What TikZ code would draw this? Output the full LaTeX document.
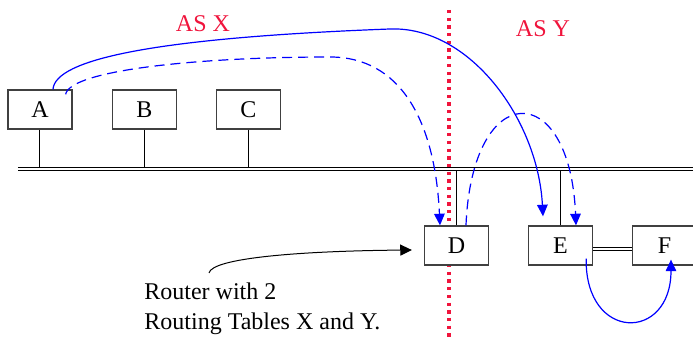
\documentclass[tikz,border=0pt]{standalone}
\usepackage{fontspec}
\setmainfont{Liberation Serif}
\usetikzlibrary{arrows.meta}

\definecolor{asred}{RGB}{240,20,60}

\begin{document}
\begin{tikzpicture}[x=0.5pt, y=-0.5pt,
  font=\fontsize{12}{15}\selectfont,
  router/.style={draw=black!75, fill=white, line width=0.65pt, minimum width=32pt, minimum height=19.5pt, inner sep=0pt},
  wire/.style={line width=0.5pt},
  bus/.style={double, double distance=1pt, line width=0.5pt},
  route/.style={blue, line width=0.6pt, -{Triangle[length=5.8pt,width=5.3pt]}},
  backup/.style={route, dash pattern=on 5pt off 3pt},
  border/.style={asred, line width=2pt, dash pattern=on 1.65pt off 2.2pt}]

\useasboundingbox (0,0) rectangle (693,340);

% Boundary between the two systems
\draw[border] (449.5,10) -- (449.5,345);
\node[asred] (asx) at (203,24) {AS X};
\node[asred] (asy) at (543,29) {AS Y};

% Routers
\node[router] (A) at (40,109.5) {A};
\node[router] (B) at (144.5,109.5) {B};
\node[router] (C) at (248.5,109.5) {C};
\node[router] (D) at (456.5,245.5) {D};
\node[router] (E) at (560.5,245.5) {E};
\node[router] (F) at (664.5,245.5) {F};

% Shared bus
\coordinate (busL) at (18,169.5);
\coordinate (busR) at (700,169.5);
\draw[bus] (busL) -- (busR);
\draw[wire] (A.south) -- (A.south |- 0,168.3);
\draw[wire] (B.south) -- (B.south |- 0,168.3);
\draw[wire] (C.south) -- (C.south |- 0,168.3);
\draw[wire] (D.north) -- (D.north |- 0,170.7);
\draw[wire] (E.north) -- (E.north |- 0,170.7);
\draw[bus] ([yshift=-1.75pt]E.east) -- ([yshift=-1.75pt]F.west);

% Routes
\draw[route] ([xshift=6.5pt]A.north) .. controls (55,60) and (150,38) .. (390,29)
  .. controls (470,26) and (538,120) .. ([xshift=-8.75pt,yshift=4.5pt]E.north);
\draw[backup] ([xshift=-3.5pt,yshift=-2.5pt]A.north east) .. controls (70,70) and (200,57) .. (330,57)
  .. controls (400,57) and (435,120) .. ([xshift=-8.25pt]D.north);
\draw[backup] ([xshift=4.75pt]D.north) .. controls (472,78) and (570,78) .. ([xshift=7.75pt]E.north);
\draw[route] ([xshift=-3.5pt,yshift=3.5pt]E.south east) .. controls (585,342) and (671,342) .. ([xshift=3.25pt,yshift=3pt]F.south);

% Note
\node[anchor=north west, align=left, inner sep=0pt] (note) at (144,282) {Router with 2\\Routing Tables X and Y.};
\draw[wire, -{Triangle[length=5.8pt,width=5.5pt]}] ([xshift=32.5pt,yshift=4.5pt]note.north west)
  .. controls (212,258) and (300,251) .. ([xshift=-6pt,yshift=-2.25pt]D.west);

\end{tikzpicture}
\end{document}
